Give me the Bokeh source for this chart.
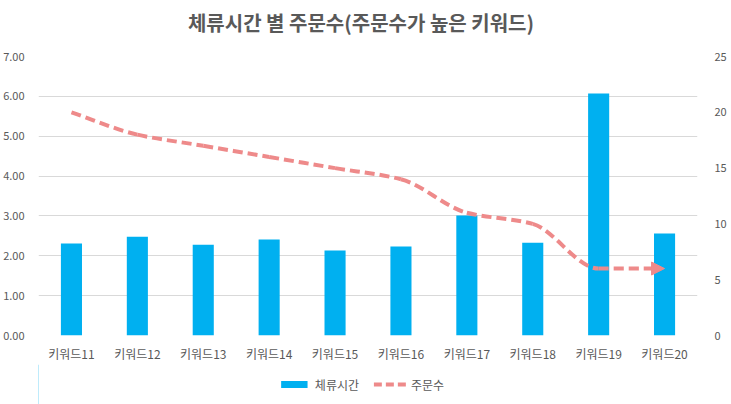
import numpy as np
from bokeh.plotting import figure
from bokeh.layouts import column
from bokeh.models import (Range1d, LinearAxis, FactorRange, Legend, LegendItem,
                          Arrow, NormalHead, SingleIntervalTicker, NumeralTickFormatter)
from bokeh.core.properties import value
from bokeh.embed import file_html
from bokeh.resources import INLINE

title_text = "체류시간 별 주문수(주문수가 높은 키워드)"
categories = ["키워드11", "키워드12", "키워드13", "키워드14", "키워드15",
              "키워드16", "키워드17", "키워드18", "키워드19", "키워드20"]
stay_time = [2.31, 2.48, 2.28, 2.41, 2.13, 2.23, 3.01, 2.33, 6.07, 2.56]
orders = [20, 18, 17, 16, 15, 14, 11, 10, 6, 6]
series_names = ["체류시간", "주문수"]

FONT = "Noto Sans CJK KR"
TXT = "#595959"
BAR = "#00B0F0"
LINE = "#EE8A8A"


def blank(fig):
    fig.axis.visible = False
    fig.grid.grid_line_color = None
    fig.outline_line_color = None
    fig.background_fill_color = "white"
    fig.border_fill_color = "white"


# ---- title strip ----
p0 = figure(width=715, height=44, x_range=Range1d(0, 1), y_range=Range1d(0, 1),
            output_backend="svg", toolbar_location=None,
            min_border_left=0, min_border_right=0, min_border_top=0, min_border_bottom=0)
blank(p0)
p0.text(x=[0.5], y=[0.5], text=[title_text], text_font=value(FONT), text_font_size="20px",
        text_font_style="bold", text_color=TXT, text_align="center", text_baseline="middle")

# ---- main chart ----
p = figure(frame_width=659, frame_height=279, x_range=FactorRange(*categories, range_padding=0),
           y_range=Range1d(0, 7), output_backend="svg", toolbar_location=None,
           min_border_left=30, min_border_right=26, min_border_top=12, min_border_bottom=28)
p.outline_line_color = None
p.background_fill_color = "white"
p.border_fill_color = "white"

p.extra_y_ranges = {"orders": Range1d(0, 25)}

p.vbar(x=categories, top=stay_time, width=0.32, fill_color=BAR, line_color=None)

# smoothed line: monotone cubic bezier through the data points
n = len(orders)
xs = np.arange(n) + 0.5
ys = np.array(orders, dtype=float)
d = np.diff(ys)
m = np.zeros(n)
m[0] = d[0]
m[-1] = d[-1]
for k in range(1, n - 1):
    if d[k - 1] * d[k] > 0:
        m[k] = 2.0 / (1.0 / d[k - 1] + 1.0 / d[k])
x0 = xs[:-1]; y0 = ys[:-1]; x1 = xs[1:]; y1 = ys[1:]
cx0 = x0 + 1 / 3.0
cy0 = y0 + m[:-1] / 3.0
cx1 = x1 - 1 / 3.0
cy1 = y1 - m[1:] / 3.0
shorten = np.r_[np.zeros(n - 2), 0.12]
p.bezier(x0=x0, y0=y0, x1=x1 - shorten, y1=y1, cx0=cx0, cy0=cy0, cx1=cx1, cy1=cy1,
         y_range_name="orders", line_color=LINE, line_width=4, line_dash="10 5")
p.add_layout(Arrow(end=NormalHead(size=13, fill_color=LINE, line_color=LINE),
                   x_start=xs[-1] - 0.15, y_start=ys[-1], x_end=xs[-1], y_end=ys[-1],
                   y_range_name="orders", line_alpha=0, line_width=0))

p.yaxis.ticker = SingleIntervalTicker(interval=1)
p.yaxis.formatter = NumeralTickFormatter(format="0.00")
right = LinearAxis(y_range_name="orders", ticker=SingleIntervalTicker(interval=5))
p.add_layout(right, "right")

for ax in [p.xaxis[0], p.yaxis[0], right]:
    ax.axis_line_color = None
    ax.major_tick_line_color = None
    ax.minor_tick_line_color = None
    ax.major_label_text_font = FONT
    ax.major_label_text_color = TXT
    ax.major_label_text_font_size = "11px"
p.xaxis.major_label_text_font_size = "12px"
p.xaxis.major_label_standoff = 3
p.yaxis[0].major_label_standoff = 8
right.major_label_standoff = 11

p.xgrid.grid_line_color = None
p.ygrid.grid_line_color = "#D9D9D9"
p.ygrid.grid_line_width = 1

# ---- legend strip ----
p2 = figure(width=715, height=40, x_range=Range1d(0, 1), y_range=Range1d(0, 1),
            output_backend="svg", toolbar_location=None,
            min_border_left=0, min_border_right=0, min_border_top=0, min_border_bottom=0)
blank(p2)
lg_bar = p2.vbar(x=[-5], top=[1], width=0.3, fill_color=BAR, line_color=None)
lg_line = p2.line(x=[-5, -4], y=[0, 0], line_color=LINE, line_width=4, line_dash="8 4")
legend = Legend(items=[LegendItem(label=series_names[0], renderers=[lg_bar]),
                       LegendItem(label=series_names[1], renderers=[lg_line])],
                orientation="horizontal", location="center",
                label_text_font=FONT, label_text_font_size="12px", label_text_color=TXT,
                glyph_width=33, glyph_height=9, spacing=14, label_standoff=5,
                padding=2, margin=0, border_line_color=None, background_fill_alpha=0)
p2.add_layout(legend, "center")

layout = column(p0, p, p2, spacing=0)
open("out.html", "w").write(file_html(layout, INLINE))
